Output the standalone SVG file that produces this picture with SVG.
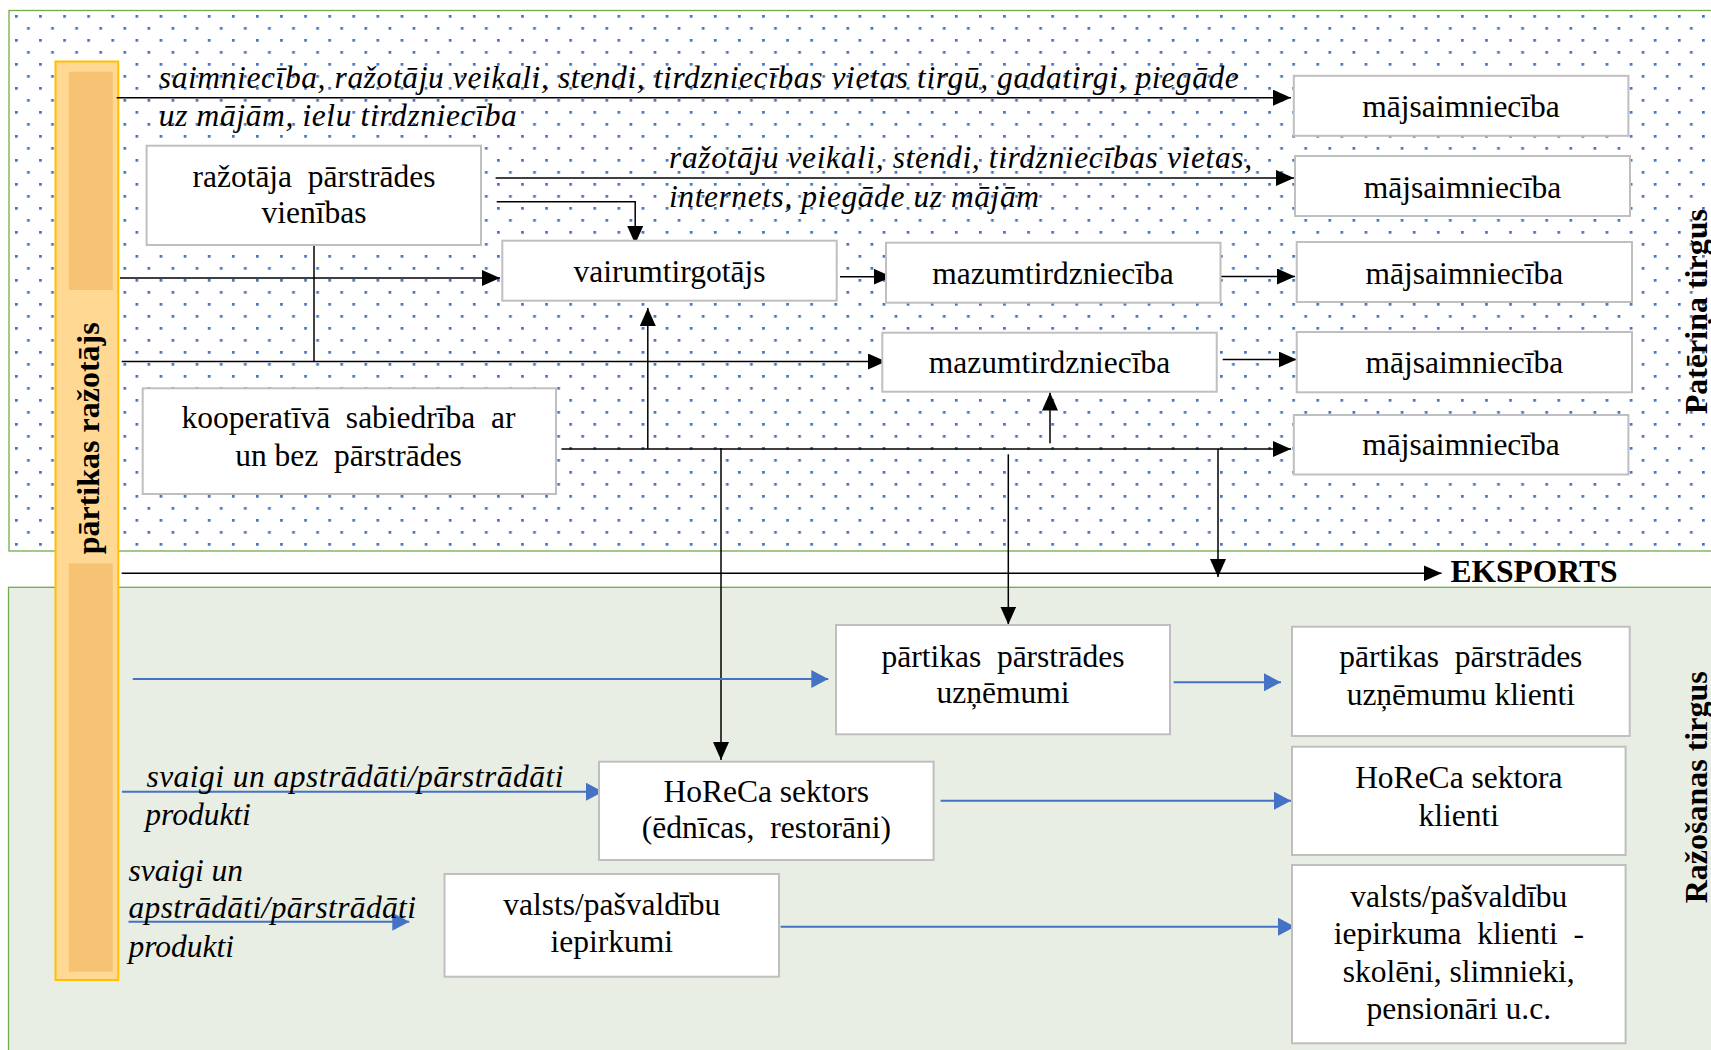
<svg xmlns="http://www.w3.org/2000/svg" width="1711" height="1050" viewBox="0 0 1711 1050">
<style>
.box{fill:#fff;stroke:#BFBFBF;stroke-width:2}
.t{font-family:"Liberation Serif","Times New Roman",serif;font-size:31.5px;fill:#000;text-anchor:middle}
.it{font-family:"Liberation Serif","Times New Roman",serif;font-size:31.5px;font-style:italic;fill:#000}
.bold{font-family:"Liberation Serif","Times New Roman",serif;font-size:32px;font-weight:bold;fill:#000;text-anchor:middle}
.blk{stroke:#000;stroke-width:1.5;fill:none}
.blk-a{stroke:#000;stroke-width:1.5;fill:none;marker-end:url(#ah)}
.blu-a{stroke:#4472C4;stroke-width:2;fill:none;marker-end:url(#ahb)}
</style>
<defs>
<pattern id="dots" patternUnits="userSpaceOnUse" x="15" y="15" width="24.1" height="24">
<rect x="0" y="0" width="2.7" height="2.7" fill="#4472C4"/>
<rect x="12.05" y="12" width="2.7" height="2.7" fill="#4472C4"/>
</pattern>
<marker id="ah" markerUnits="userSpaceOnUse" markerWidth="18" markerHeight="16" refX="18" refY="8" orient="auto">
<path d="M0,0 L18,8 L0,16 z" fill="#000"/>
</marker>
<marker id="ahb" markerUnits="userSpaceOnUse" markerWidth="18" markerHeight="18" refX="17" refY="9" orient="auto">
<path d="M0,0 L17,9 L0,18 z" fill="#4472C4"/>
</marker>
</defs>

<g id="regions">
<rect x="9" y="10.5" width="1710" height="540.5" fill="#fff" stroke="#70AD47" stroke-width="1.3"/>
<rect x="9" y="10.5" width="1710" height="540.5" fill="url(#dots)"/>
<rect x="8.5" y="587.3" width="1710" height="470" fill="#E9EEE4" stroke="#70AD47" stroke-width="1.3"/>
</g>

<g id="producer">
<rect x="55.5" y="61.5" width="62.8" height="918.5" fill="#FFD993" stroke="#FFC000" stroke-width="2"/>
<rect x="68.8" y="71.7" width="44" height="218.3" fill="#F5C373"/>
<rect x="68.8" y="563.3" width="44" height="408.4" fill="#F5C373"/>
<text class="bold" transform="translate(99,438.3) rotate(-90)">pārtikas ražotājs</text>
</g>

<g id="region-labels">
<text class="bold" transform="translate(1706.7,311.7) rotate(-90)">Patēriņa tirgus</text>
<text class="bold" transform="translate(1706.7,787.3) rotate(-90)">Ražošanas tirgus</text>
</g>

<g id="connectors">
<line class="blk-a" x1="116.7" y1="97.7" x2="1291" y2="97.7"/>
<line class="blk-a" x1="495.6" y1="178" x2="1294" y2="178"/>
<polyline class="blk-a" points="496.7,201.7 635.2,201.7 635.2,244"/>
<line class="blk-a" x1="120" y1="278" x2="500" y2="278"/>
<line class="blk" x1="314" y1="245" x2="314" y2="361.5"/>
<line class="blk-a" x1="121.7" y1="361.5" x2="886" y2="361.5"/>
<line class="blk-a" x1="840" y1="276.7" x2="891.7" y2="276.7"/>
<line class="blk-a" x1="1220.5" y1="276.5" x2="1295" y2="276.5"/>
<line class="blk-a" x1="1222.7" y1="359.5" x2="1296.7" y2="359.5"/>
<line class="blk-a" x1="561.4" y1="449" x2="1291" y2="449"/>
<line class="blk-a" x1="647.8" y1="449" x2="647.8" y2="308"/>
<line class="blk-a" x1="1050" y1="443.3" x2="1050" y2="392.5"/>
<line class="blk-a" x1="721" y1="448" x2="721" y2="760"/>
<line class="blk-a" x1="1008.3" y1="454.3" x2="1008.3" y2="624.5"/>
<line class="blk-a" x1="1218" y1="449" x2="1218" y2="577"/>
<line class="blk-a" x1="121.7" y1="573.3" x2="1441.6" y2="573.3"/>
<line class="blu-a" x1="132.8" y1="679" x2="828.3" y2="679"/>
<line class="blu-a" x1="1173.6" y1="682.3" x2="1281" y2="682.3"/>
<line class="blu-a" x1="122" y1="791.7" x2="603" y2="791.7"/>
<line class="blu-a" x1="940.6" y1="800.7" x2="1291" y2="800.7"/>
<line class="blu-a" x1="128.5" y1="921.7" x2="409.3" y2="921.7"/>
<line class="blu-a" x1="780.6" y1="926.7" x2="1295" y2="926.7"/>
</g>

<g id="channel-labels">
<text class="it" x="158.8" y="88.3" textLength="1080" lengthAdjust="spacing">saimniecība, ražotāju veikali, stendi, tirdzniecības vietas tirgū, gadatirgi, piegāde</text>
<text class="it" x="158.8" y="126" textLength="358" lengthAdjust="spacing">uz mājām, ielu tirdzniecība</text>
<text class="it" x="669" y="168.3" textLength="583" lengthAdjust="spacing">ražotāju veikali, stendi, tirdzniecības vietas,</text>
<text class="it" x="669" y="207.3" textLength="370" lengthAdjust="spacing">internets, piegāde uz mājām</text>
<text class="it" x="146.4" y="786.7" textLength="417" lengthAdjust="spacing">svaigi un apstrādāti/pārstrādāti</text>
<text class="it" x="145.3" y="825">produkti</text>
<text class="it" x="128.5" y="881">svaigi un</text>
<text class="it" x="128.5" y="918.3" textLength="287.5" lengthAdjust="spacing">apstrādāti/pārstrādāti</text>
<text class="it" x="128.5" y="956.7">produkti</text>
<text class="bold" x="1450.5" y="581.7" style="text-anchor:start;font-size:31.5px">EKSPORTS</text>
</g>

<g id="razotaja-parstrades">
<rect class="box" x="146.6" y="145.7" width="334.4" height="99.3"/>
<text class="t" x="314" y="186.7" xml:space="preserve">ražotāja  pārstrādes</text>
<text class="t" x="314" y="223">vienības</text>
</g>
<g id="kooperativa">
<rect class="box" x="142.7" y="388.3" width="413.3" height="105.7"/>
<text class="t" x="348.5" y="428.3" xml:space="preserve">kooperatīvā  sabiedrība  ar</text>
<text class="t" x="348.5" y="465.7" xml:space="preserve">un bez  pārstrādes</text>
</g>
<g id="vairumtirgotajs">
<rect class="box" x="502.3" y="240.7" width="334.4" height="60"/>
<text class="t" x="669.5" y="281.7">vairumtirgotājs</text>
</g>
<g id="mazumtirdznieciba-1">
<rect class="box" x="886" y="242.7" width="334.5" height="60"/>
<text class="t" x="1053" y="283.5">mazumtirdzniecība</text>
</g>
<g id="mazumtirdznieciba-2">
<rect class="box" x="882.3" y="332.7" width="334.4" height="59"/>
<text class="t" x="1049.5" y="373.3">mazumtirdzniecība</text>
</g>
<g id="majsaimnieciba-1">
<rect class="box" x="1293.8" y="75.8" width="334.6" height="60"/>
<text class="t" x="1461" y="116.7">mājsaimniecība</text>
</g>
<g id="majsaimnieciba-2">
<rect class="box" x="1295" y="156" width="335" height="60"/>
<text class="t" x="1462.5" y="198.2">mājsaimniecība</text>
</g>
<g id="majsaimnieciba-3">
<rect class="box" x="1296.7" y="242" width="335.3" height="60"/>
<text class="t" x="1464.3" y="284">mājsaimniecība</text>
</g>
<g id="majsaimnieciba-4">
<rect class="box" x="1296.7" y="332" width="335.3" height="60.3"/>
<text class="t" x="1464.3" y="373.1">mājsaimniecība</text>
</g>
<g id="majsaimnieciba-5">
<rect class="box" x="1293.8" y="415" width="334.6" height="59.5"/>
<text class="t" x="1461" y="455.4">mājsaimniecība</text>
</g>
<g id="partikas-parstrades-uznemumi">
<rect class="box" x="836" y="625" width="334" height="109.3"/>
<text class="t" x="1003" y="666.7" xml:space="preserve">pārtikas  pārstrādes</text>
<text class="t" x="1003" y="703.3">uzņēmumi</text>
</g>
<g id="partikas-parstrades-klienti">
<rect class="box" x="1292" y="626.7" width="337.7" height="109.3"/>
<text class="t" x="1460.8" y="667.3" xml:space="preserve">pārtikas  pārstrādes</text>
<text class="t" x="1460.8" y="705">uzņēmumu klienti</text>
</g>
<g id="horeca">
<rect class="box" x="599" y="761.7" width="334.6" height="98.3"/>
<text class="t" x="766.3" y="801.7">HoReCa sektors</text>
<text class="t" x="766.3" y="838.3" xml:space="preserve">(ēdnīcas,  restorāni)</text>
</g>
<g id="horeca-klienti">
<rect class="box" x="1292" y="746.7" width="333.6" height="108.3"/>
<text class="t" x="1458.8" y="788.3">HoReCa sektora</text>
<text class="t" x="1458.8" y="826">klienti</text>
</g>
<g id="valsts-iepirkumi">
<rect class="box" x="444.5" y="874" width="334.5" height="102.7"/>
<text class="t" x="611.7" y="915">valsts/pašvaldību</text>
<text class="t" x="611.7" y="951.7">iepirkumi</text>
</g>
<g id="valsts-klienti">
<rect class="box" x="1292" y="865" width="333.6" height="178.3"/>
<text class="t" x="1458.8" y="906.7">valsts/pašvaldību</text>
<text class="t" x="1458.8" y="944" xml:space="preserve">iepirkuma  klienti  -</text>
<text class="t" x="1458.8" y="981.7">skolēni, slimnieki,</text>
<text class="t" x="1458.8" y="1019.3">pensionāri u.c.</text>
</g>
</svg>
